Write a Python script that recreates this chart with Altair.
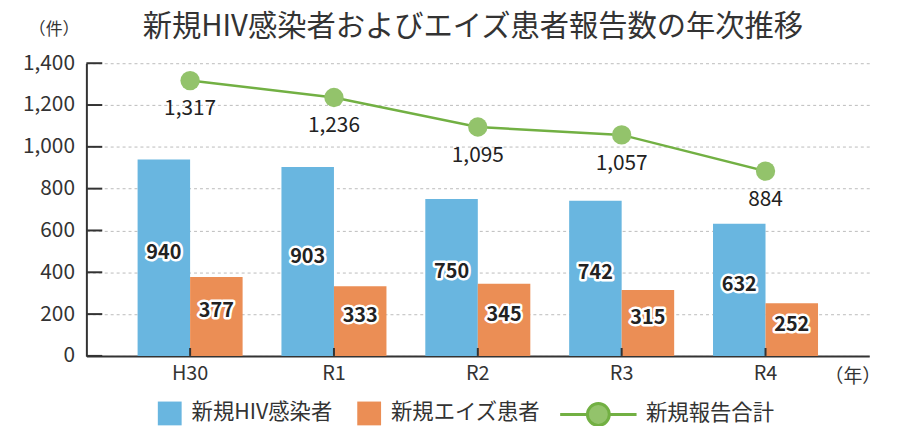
import altair as alt
import pandas as pd

years = ["H30", "R1", "R2", "R3", "R4"]
hiv = [940, 903, 750, 742, 632]
aids = [377, 333, 345, 315, 252]
total = [1317, 1236, 1095, 1057, 884]
series_names = ["新規HIV感染者", "新規エイズ患者"]
line_name = "新規報告合計"
y_ticks = [0, 200, 400, 600, 800, 1000, 1200, 1400]

FONT = "Noto Sans CJK JP"
TXT = "#333333"
BLUE = "#69b6e0"
ORANGE = "#eb8e55"
GREEN_LINE = "#72b043"
GREEN_PT = "#93c36b"
W, H = 789, 295

bars_df = pd.DataFrame({
    "year": years * 2,
    "series": [series_names[0]] * len(years) + [series_names[1]] * len(years),
    "value": hiv + aids,
})
bars_df["mid"] = bars_df["value"] / 2
line_df = pd.DataFrame({"year": years, "total": total, "name": [line_name] * len(years)})
ticks_df = pd.DataFrame({"v": y_ticks})
xt_df = pd.DataFrame({"year": years})

x_scale = alt.Scale(domain=years, paddingInner=0.27, paddingOuter=0.356)
x_axis = alt.Axis(
    title="（年）", titleAngle=0, titleX=772, titleY=21, titleAlign="center",
    titleBaseline="middle", titleFontSize=19, titleFont=FONT, titleFontWeight="normal",
    titleColor=TXT, labelFontSize=20, labelFont=FONT, labelColor=TXT, labelPadding=8,
    ticks=False, domain=True, domainColor=TXT, domainWidth=2, labelAngle=0, grid=False,
)
y_scale = alt.Scale(domain=[0, 1400], nice=False, zero=True)
y_axis = alt.Axis(
    title="（件）", titleAngle=0, titleX=-33, titleY=-34, titleAlign="center",
    titleBaseline="middle", titleFontSize=17, titleFont=FONT, titleFontWeight="normal",
    titleColor=TXT, values=y_ticks, format=",d", labelFontSize=21, labelFont=FONT,
    labelColor=TXT, labelPadding=12, ticks=False, domain=True, domainColor=TXT,
    domainWidth=2, grid=True, gridDash=[3, 3], gridColor="#bbbbbb", gridWidth=1,
)

X = alt.X("year:N", scale=x_scale, axis=x_axis)
XOFF = alt.XOffset("series:N", sort=series_names, scale=alt.Scale(domain=series_names, paddingInner=0, paddingOuter=0))

bars = alt.Chart(bars_df).mark_bar().encode(
    x=X,
    xOffset=XOFF,
    y=alt.Y("value:Q", scale=y_scale, axis=y_axis),
    color=alt.Color(
        "series:N",
        scale=alt.Scale(domain=series_names, range=[BLUE, ORANGE]),
        legend=alt.Legend(
            title=None, orient="none", legendX=72, legendY=341, direction="horizontal",
            symbolType="square", symbolSize=576, symbolStrokeWidth=0, symbolOpacity=1,
            labelFontSize=21.5, labelFont=FONT, labelColor=TXT, labelOffset=10,
            columnPadding=25, padding=0,
        ),
    ),
)

halo = alt.Chart(bars_df).mark_text(
    font=FONT, fontSize=20, fontWeight="bold", stroke="white", strokeWidth=5,
    strokeJoin="round", color=TXT, dy=-5,
).encode(x=alt.X("year:N", scale=x_scale), xOffset=XOFF, y=alt.Y("mid:Q", scale=y_scale), text="value:Q")

labels = alt.Chart(bars_df).mark_text(
    font=FONT, fontSize=20, fontWeight="bold", color="#222222", dy=-5,
).encode(x=alt.X("year:N", scale=x_scale), xOffset=XOFF, y=alt.Y("mid:Q", scale=y_scale), text="value:Q")

legend_path = ("M-1,0L-0.286,0M0.286,0L1,0M0.286,0A0.286,0.286,0,1,1,-0.286,0"
               "A0.286,0.286,0,1,1,0.286,0Z")

line = alt.Chart(line_df).mark_line(strokeWidth=2.5).encode(
    x=alt.X("year:N", scale=x_scale),
    y=alt.Y("total:Q", scale=y_scale),
    stroke=alt.Stroke(
        "name:N",
        scale=alt.Scale(domain=[line_name], range=[GREEN_LINE]),
        legend=alt.Legend(
            title=None, orient="none", legendX=476, legendY=314, direction="horizontal",
            symbolType=legend_path, symbolSize=5929, symbolStrokeWidth=3,
            symbolFillColor=GREEN_PT, symbolStrokeColor=GREEN_LINE,
            labelFontSize=21.5, labelFont=FONT, labelColor=TXT, labelOffset=8, padding=0,
        ),
    ),
)

points = alt.Chart(line_df).mark_circle(size=380, color=GREEN_PT, opacity=1).encode(
    x=alt.X("year:N", scale=x_scale),
    y=alt.Y("total:Q", scale=y_scale),
)

line_labels = alt.Chart(line_df).mark_text(
    font=FONT, fontSize=21, color="#222222", dy=29,
).encode(
    x=alt.X("year:N", scale=x_scale),
    y=alt.Y("total:Q", scale=y_scale),
    text=alt.Text("total:Q", format=",d"),
)

y_tick_rules = alt.Chart(ticks_df).mark_rule(color=TXT, strokeWidth=2).encode(
    y=alt.Y("v:Q", scale=y_scale),
    x=alt.value(0),
    x2=alt.value(16),
)

x_tick_rules = alt.Chart(xt_df).mark_rule(color=TXT, strokeWidth=2).encode(
    x=alt.X("year:N", scale=x_scale),
    y=alt.value(H),
    y2=alt.value(H - 8),
)

chart = alt.layer(
    bars, halo, labels, line, points, line_labels, y_tick_rules, x_tick_rules
).properties(
    width=W, height=H,
    title=alt.TitleParams(
        "新規HIV感染者およびエイズ患者報告数の年次推移", font=FONT, fontSize=29.5,
        fontWeight="normal", color=TXT, anchor="middle", dx=-5, offset=0, dy=22,
    ),
    autosize=alt.AutoSizeParams(type="none"),
    padding={"left": 79, "top": 54, "right": 30, "bottom": 69},
    background="white",
).configure_view(stroke=None)

chart.save("out.html", embed_options={"renderer": "svg", "actions": False})
